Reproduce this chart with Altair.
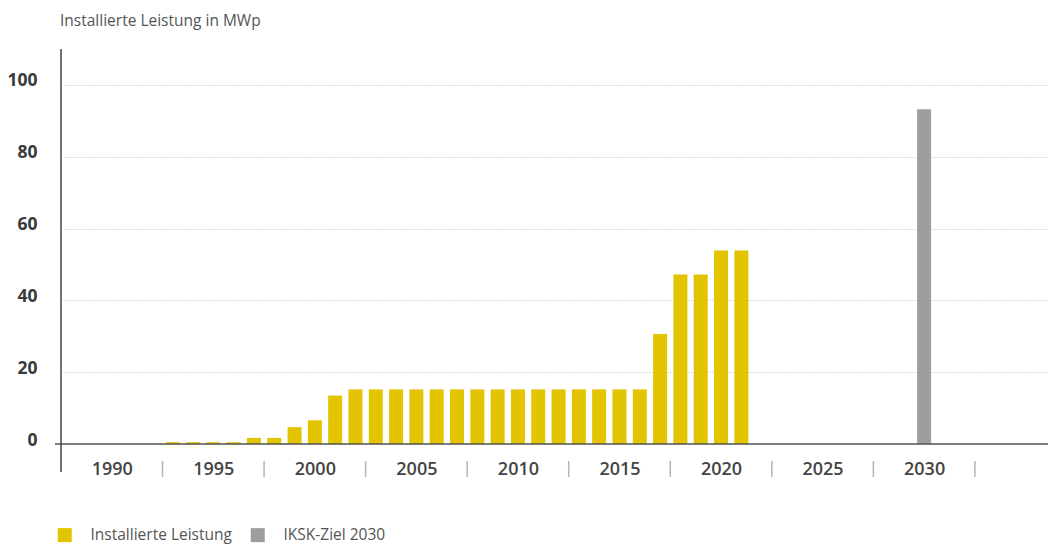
import altair as alt
import pandas as pd

# ---- data ----
years = [1993, 1994, 1995, 1996, 1997, 1998, 1999, 2000, 2001, 2002,
         2003, 2004, 2005, 2006, 2007, 2008, 2009, 2010, 2011, 2012,
         2013, 2014, 2015, 2016, 2017, 2018, 2019, 2020, 2021]
installed = [0.5, 0.5, 0.5, 0.5, 1.7, 1.7, 4.7, 6.6, 13.5, 15.2,
             15.2, 15.2, 15.2, 15.2, 15.2, 15.2, 15.2, 15.2, 15.2, 15.2,
             15.2, 15.2, 15.2, 15.2, 30.6, 47.2, 47.2, 53.9, 53.9]
target_years = [2030]
target_values = [93.2]

series_names = ["Installierte Leistung", "IKSK-Ziel 2030"]
series_colors = ["#e2c400", "#9e9e9e"]

label_years = [1990, 1995, 2000, 2005, 2010, 2015, 2020, 2025, 2030]
separators = [1992.5, 1997.5, 2002.5, 2007.5, 2012.5, 2017.5, 2022.5, 2027.5, 2032.5]
y_ticks = [0, 20, 40, 60, 80, 100]

title_text = "Installierte Leistung in MWp"

# ---- tables ----
df = pd.DataFrame({
    "year": years + target_years,
    "value": installed + target_values,
    "series": [series_names[0]] * len(years) + [series_names[1]] * len(target_years),
})
sep_df = pd.DataFrame({"year": separators})
one = pd.DataFrame({"a": [0]})

FONT = "Open Sans"
W, H = 987, 395

x_scale = alt.Scale(domain=[1987.5, 2036.1], nice=False, zero=False, padding=0)
y_scale = alt.Scale(domain=[0, 110], nice=False)

x_axis = alt.Axis(values=label_years, format="d", title=None,
                  ticks=False, domain=False, grid=False,
                  labelFontSize=18, labelColor="#444", labelFont=FONT,
                  labelFontWeight=600, labelPadding=16,
                  labelOverlap=False)

bars = alt.Chart(df).mark_bar(width=14).encode(
    x=alt.X("year:Q", scale=x_scale, axis=x_axis),
    y=alt.Y("value:Q", scale=y_scale,
            axis=alt.Axis(values=y_ticks, title=None, ticks=False, domain=False,
                          grid=True, gridDash=[1, 2], gridColor="#b8b8b8",
                          gridWidth=1, labelFontSize=17.5, labelFontWeight="bold",
                          labelColor="#3a3a3a", labelFont=FONT, labelPadding=24,
                          labelOffset=-4)),
    color=alt.Color("series:N",
                    scale=alt.Scale(domain=series_names, range=series_colors),
                    legend=alt.Legend(title=None, orient="none", legendX=-4,
                                      legendY=478, direction="horizontal",
                                      symbolType="square", symbolSize=196,
                                      symbolStrokeWidth=0, labelFontSize=15.5,
                                      labelColor="#555", labelFont=FONT,
                                      labelOffset=18, columnPadding=18,
                                      padding=0)),
)

seps = alt.Chart(sep_df).mark_rule(color="#b5b5b5", strokeWidth=1.5).encode(
    x=alt.X("year:Q", scale=x_scale, axis=x_axis),
    y=alt.value(412),
    y2=alt.value(428),
)

yaxis_line = alt.Chart(one).mark_rule(color="#444", strokeWidth=1.5).encode(
    x=alt.value(0), y=alt.value(0), y2=alt.value(423)
)

baseline = alt.Chart(one).mark_rule(color="#555", strokeWidth=1.5).encode(
    x=alt.value(-6), x2=alt.value(W), y=alt.datum(0, scale=y_scale)
)

title = alt.Chart(one).mark_text(
    text=title_text, align="left", baseline="alphabetic", fontSize=15.5,
    color="#555", font=FONT
).encode(x=alt.value(-1), y=alt.value(-23))

chart = alt.layer(bars, seps, baseline, yaxis_line, title).properties(
    width=W, height=H,
    autosize=alt.AutoSizeParams(type="none"),
    padding={"left": 61, "top": 49, "right": 0, "bottom": 100},
).configure(font=FONT).configure_view(stroke=None)

chart.save("out.html", embed_options={"renderer": "svg", "actions": False})
